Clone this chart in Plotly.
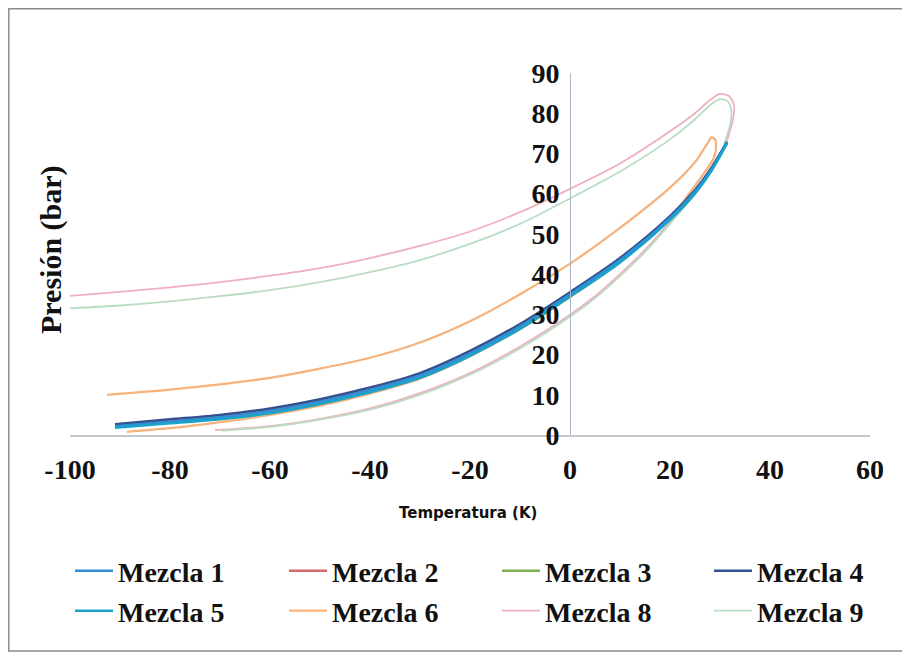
import plotly.graph_objects as go

# ---------------- data ----------------
names = ["Mezcla 1", "Mezcla 2", "Mezcla 3", "Mezcla 4", "Mezcla 5", "Mezcla 6", "Mezcla 8", "Mezcla 9"]

t_bundle = [-91, -80, -70, -60, -50, -40, -30, -20, -10, 0, 10, 20, 25, 28, 31.4]
p_m1 = [2.2, 3.3, 4.4, 6.0, 8.3, 11.2, 14.8, 20.3, 27.0, 35.0, 43.5, 54.0, 60.5, 65.5, 72.8]
p_m2 = [2.4, 3.6, 4.7, 6.3, 8.6, 11.5, 15.1, 20.6, 27.3, 35.2, 43.7, 54.2, 60.7, 65.7, 72.8]
p_m3 = [2.0, 3.1, 4.2, 5.7, 8.0, 10.9, 14.5, 20.0, 26.7, 34.7, 43.2, 53.8, 60.3, 65.3, 72.6]
p_m4 = [2.7, 3.9, 5.0, 6.6, 8.9, 11.8, 15.4, 20.9, 27.6, 35.5, 44.0, 54.4, 60.9, 65.9, 72.9]
p_m5 = [1.8, 2.9, 3.9, 5.4, 7.7, 10.6, 14.2, 19.7, 26.4, 34.4, 42.9, 53.5, 60.0, 65.1, 72.5]

t_m6 = [-92.6, -80, -70, -60, -50, -40, -30, -20, -10, 0, 10, 20, 25, 27.5, 28.3, 29.0, 29.2, 28.8,
        25, 20, 10, 0, -10, -20, -30, -40, -50, -60, -70, -80, -88.6]
p_m6 = [10.0, 11.3, 12.6, 14.2, 16.5, 19.2, 23.0, 28.3, 35.0, 42.6, 51.5, 61.5, 67.8, 72.5, 74.0, 73.5, 71.5, 69.0,
        62.0, 54.0, 43.0, 34.3, 26.3, 19.5, 14.0, 10.3, 7.3, 5.0, 3.2, 1.7, 0.8]

t_m8 = [-100, -90, -80, -70, -60, -50, -40, -30, -20, -10, 0, 10, 20, 25, 28, 30, 31.8, 32.8, 32.6, 31.6, 30.6,
        28, 25, 20, 15, 10, 5, 0, -10, -20, -30, -40, -50, -60, -71]
p_m8 = [34.6, 35.6, 36.7, 38.0, 39.6, 41.5, 44.0, 47.0, 50.6, 55.4, 61.2, 67.5, 75.5, 80.0, 83.3, 84.8, 84.3, 82.0, 78.5, 74.0, 70.5,
        66.0, 60.5, 53.0, 46.0, 40.0, 34.5, 29.9, 22.0, 15.4, 10.4, 6.6, 4.0, 2.2, 1.2]

t_m9 = [-100, -90, -80, -70, -60, -50, -40, -30, -20, -10, 0, 10, 20, 25, 28, 30, 31.5, 32.3, 32.0, 31.0, 30.4,
        28, 25, 20, 15, 10, 5, 0, -10, -20, -30, -40, -50, -60, -69.6]
p_m9 = [31.5, 32.2, 33.2, 34.5, 36.0, 38.0, 40.5, 43.5, 47.5, 52.5, 58.8, 65.5, 73.5, 78.5, 82.0, 83.5, 83.0, 80.5, 77.0, 73.0, 70.0,
        65.5, 60.0, 52.5, 45.5, 39.5, 34.0, 29.4, 21.5, 15.0, 10.0, 6.3, 3.8, 2.0, 1.1]

x_ticks = [-100, -80, -60, -40, -20, 0, 20, 40, 60]
y_ticks = [0, 10, 20, 30, 40, 50, 60, 70, 80, 90]

colors = {
    "Mezcla 1": "#2F8FD8",
    "Mezcla 2": "#D46A6A",
    "Mezcla 3": "#7FB04F",
    "Mezcla 4": "#34508F",
    "Mezcla 5": "#1AA3C9",
    "Mezcla 6": "#F6B27A",
    "Mezcla 8": "#EEB0BE",
    "Mezcla 9": "#B9DCC3",
}

series = {
    "Mezcla 1": (t_bundle, p_m1),
    "Mezcla 2": (t_bundle, p_m2),
    "Mezcla 3": (t_bundle, p_m3),
    "Mezcla 4": (t_bundle, p_m4),
    "Mezcla 5": (t_bundle, p_m5),
    "Mezcla 6": (t_m6, p_m6),
    "Mezcla 8": (t_m8, p_m8),
    "Mezcla 9": (t_m9, p_m9),
}
widths = {"Mezcla 1": 2.5, "Mezcla 2": 2.5, "Mezcla 3": 2.5, "Mezcla 4": 2.5,
          "Mezcla 5": 2.5, "Mezcla 6": 2.2, "Mezcla 8": 1.8, "Mezcla 9": 1.8}

draw_order = ["Mezcla 8", "Mezcla 9", "Mezcla 6", "Mezcla 3", "Mezcla 2", "Mezcla 4", "Mezcla 1", "Mezcla 5"]

# page is rendered with an 8px body margin; plot area on the page spans x 70..870, y 73..435
OFF = 8
W, H = 910 - OFF, 654 - OFF
PL, PR, PT, PB = 70, 870, 73, 435
ml, mt = PL - OFF, PT - OFF
mr = W - (PR - OFF)
mb = H - (PB - OFF)
pw, ph = PR - PL, PB - PT

def px(xp):
    return (xp - PL) / pw

def py_(yp):
    return (PB - yp) / ph

# legend entries: 2 rows x 4 columns, one single-item legend per entry
legend_text_x = [118, 332, 545, 757]
legend_row_y = [571, 611]
LEG_SHIFT = 48   # page distance from legend x to start of its text

fig = go.Figure()
for n in draw_order:
    tx, py = series[n]
    k = names.index(n)
    lid = "legend" if k == 0 else f"legend{k + 1}"
    fig.add_trace(go.Scatter(
        x=tx, y=py, name=n, mode="lines",
        line=dict(color=colors[n], width=widths[n], shape="spline", smoothing=0.8),
        legend=lid,
        hoverinfo="skip",
    ))

serif = "Liberation Serif, Times New Roman, serif"
legend_layout = {}
for k, n in enumerate(names):
    lid = "legend" if k == 0 else f"legend{k + 1}"
    legend_layout[lid] = dict(
        x=max(0.0, px(legend_text_x[k % 4] - LEG_SHIFT)), y=py_(legend_row_y[k // 4]),
        orientation="h", xanchor="left", yanchor="middle", itemwidth=38,
        font=dict(family=serif, size=28, color="#111111", weight="bold"),
        bgcolor="rgba(0,0,0,0)",
    )

fig.update_layout(
    width=W, height=H,
    margin=dict(l=ml, r=mr, t=mt, b=mb),
    paper_bgcolor="white", plot_bgcolor="white",
    showlegend=True,
    xaxis=dict(
        range=[-100, 60], tickvals=x_ticks, ticktext=[str(v) for v in x_ticks],
        showgrid=False, zeroline=False, showline=True, linecolor="#C3C7CE", linewidth=2,
        ticks="", ticklabelstandoff=8,
        tickfont=dict(family=serif, size=28, color="#111111", weight="bold"),
    ),
    yaxis=dict(
        range=[0, 90], tickvals=y_ticks, ticktext=[str(v) for v in y_ticks],
        anchor="free", position=0.625,
        showgrid=False, zeroline=False, showline=True, linecolor="#A9B7C6", linewidth=1,
        ticks="", ticklabelstandoff=5,
        tickfont=dict(family=serif, size=28, color="#111111", weight="bold"),
    ),
    annotations=[
        dict(text="Presión (bar)", x=px(51), y=py_(250), xref="paper", yref="paper",
             textangle=-90, showarrow=False, xanchor="center", yanchor="middle",
             font=dict(family=serif, size=30, color="#111111", weight="bold")),
        dict(text="Temperatura (K)", x=px(468), y=py_(513), xref="paper", yref="paper",
             showarrow=False, xanchor="center", yanchor="middle",
             font=dict(family="DejaVu Sans, sans-serif", size=15, color="#111111", weight="bold")),
    ],
    shapes=[
        dict(type="rect", xref="paper", yref="paper",
             x0=px(8.8), x1=px(906), y0=py_(651), y1=py_(8.8),
             line=dict(color="#8A8A8A", width=1.5), fillcolor="rgba(0,0,0,0)", layer="below"),
    ],
    **legend_layout,
)

fig.write_html("out.html")
